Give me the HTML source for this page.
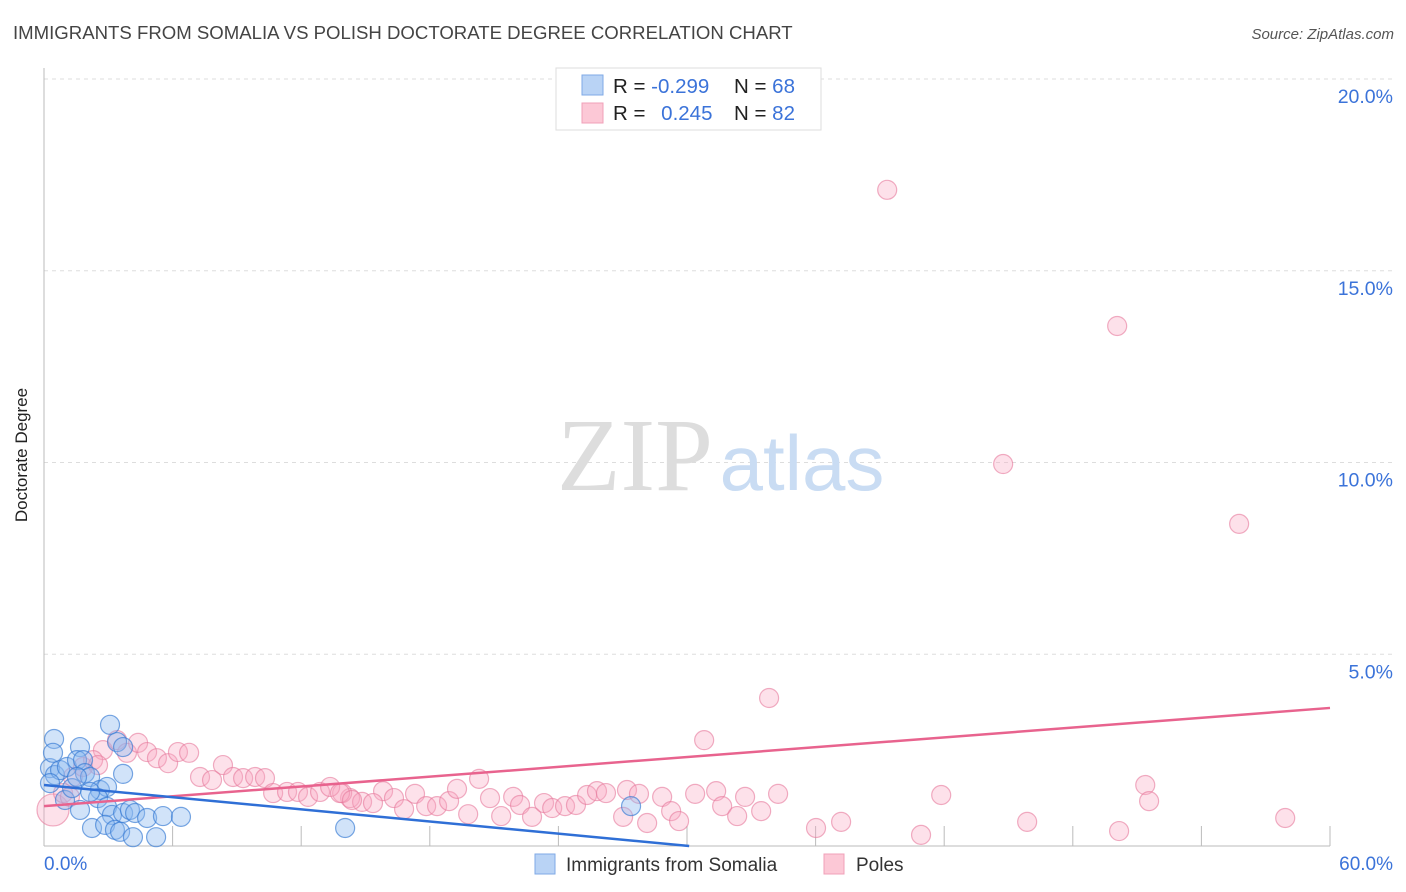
<!DOCTYPE html>
<html><head><meta charset="utf-8">
<style>
body{margin:0;background:#fff;font-family:"Liberation Sans",sans-serif;}
#wrap{position:relative;width:1406px;height:892px;overflow:hidden;}
svg text{font-family:"Liberation Sans",sans-serif;}
</style></head>
<body>
<div id="wrap">
<svg id="chart" width="1406" height="892">
  <text x="13" y="39" font-size="18.6" fill="#444">IMMIGRANTS FROM SOMALIA VS POLISH DOCTORATE DEGREE CORRELATION CHART</text>
  <text x="1394" y="39" font-size="15" fill="#555" font-style="italic" text-anchor="end">Source: ZipAtlas.com</text>
  <g id="grid"></g>
  <g>
    <text x="635" y="490" font-size="104" fill="#ddd" text-anchor="middle" style="font-family:'Liberation Serif',serif">ZIP</text>
    <text x="802" y="490" font-size="78" fill="#c9dcf3" text-anchor="middle">atlas</text>
  </g>
  <line x1="44" y1="68" x2="44" y2="846" stroke="#bbb"/>
  <line x1="44" y1="846" x2="1330" y2="846" stroke="#bbb"/>
  <g id="xticks"></g>
  <g id="yticks"></g>
  <g id="pink"></g>
  <g id="blue"></g>
  <g id="lines"></g>
  <text x="27" y="455" font-size="17" fill="#222" text-anchor="middle" transform="rotate(-90 27 455)">Doctorate Degree</text>
  <text x="44" y="870" font-size="19" fill="#3b73d9">0.0%</text>
  <text x="1393" y="870" font-size="19" fill="#3b73d9" text-anchor="end">60.0%</text>
  <g>
    <rect x="556" y="68" width="265" height="62" fill="#fff" stroke="#ddd"/>
    <rect x="582" y="75" width="21" height="20" fill="#b9d3f5" stroke="#7fa9e6"/>
    <rect x="582" y="103" width="21" height="20" fill="#fcc8d6" stroke="#f0a0b8"/>
    <text x="613" y="93" font-size="20.5" fill="#222">R = <tspan fill="#3b73d9">-0.299</tspan></text>
    <text x="734" y="93" font-size="20.5" fill="#222">N = <tspan fill="#3b73d9">68</tspan></text>
    <text x="613" y="120" font-size="20.5" fill="#222">R = <tspan fill="#3b73d9" dx="10">0.245</tspan></text>
    <text x="734" y="120" font-size="20.5" fill="#222">N = <tspan fill="#3b73d9">82</tspan></text>
  </g>
  <g>
    <rect x="535" y="854" width="20" height="20" fill="#b9d3f5" stroke="#7fa9e6"/>
    <text x="566" y="871" font-size="19" fill="#333">Immigrants from Somalia</text>
    <rect x="824" y="854" width="20" height="20" fill="#fcc8d6" stroke="#f0a0b8"/>
    <text x="856" y="871" font-size="19" fill="#333">Poles</text>
  </g>
</svg>
</div>
<script>
const yTicks=[5,10,15,20];
const yTickLabels=["5.0%","10.0%","15.0%","20.0%"];
const xTicks=[6,12,18,24,30,36,42,48,54,60];
const pinkX=[39.34,50.07,44.75,55.76,33.83,30.80,51.38,51.56,41.86,57.91,45.87,50.16,40.92,36.02,37.19,15.82,16.33,17.31,16.80,17.83,18.34,18.90,19.27,20.30,19.79,20.81,21.33,21.89,22.21,22.77,23.33,23.71,24.31,24.82,25.34,25.80,26.22,27.20,27.76,27.02,28.14,28.84,29.26,29.63,30.38,31.36,31.64,32.34,32.71,33.46,34.25,14.28,14.84,15.35,13.91,0.42,2.75,3.41,3.87,4.39,4.81,5.27,5.79,6.25,6.77,8.35,7.28,7.84,8.82,9.29,9.85,10.31,10.69,11.34,11.85,12.32,12.88,13.35,13.81,14.37,0.89,1.35,1.82,2.29,2.52,1.21];
const pinkY=[17.11,13.56,9.96,8.40,3.86,2.76,1.59,1.17,1.33,0.73,0.63,0.39,0.29,0.47,0.63,1.43,1.25,1.36,0.96,1.04,1.04,1.17,1.49,1.75,0.83,1.25,0.78,1.28,1.07,0.76,1.12,0.99,1.04,1.07,1.33,1.43,1.38,1.46,1.36,0.76,0.60,1.28,0.91,0.65,1.36,1.43,1.04,0.78,1.28,0.91,1.36,1.25,1.15,1.12,1.38,0.94,2.50,2.76,2.43,2.69,2.45,2.29,2.16,2.45,2.43,2.11,1.80,1.72,1.80,1.77,1.80,1.77,1.38,1.41,1.41,1.28,1.41,1.54,1.38,1.20,1.38,1.80,2.06,2.24,2.11,1.28];
const blueX=[14.05,27.39,3.08,0.47,1.68,3.41,3.69,3.69,0.28,0.51,0.75,1.07,1.54,1.82,1.91,2.15,2.61,2.94,2.52,0.98,1.31,1.68,2.94,3.17,3.69,4.01,4.25,4.81,5.55,6.39,2.24,2.85,3.31,3.55,4.15,5.23,0.28,0.42,1.54,2.15];
const blueY=[0.47,1.04,3.16,2.79,2.58,2.71,2.58,1.88,2.03,1.85,1.98,2.06,2.24,2.24,1.90,1.80,1.46,1.54,1.25,1.20,1.51,0.94,1.02,0.81,0.86,0.94,0.86,0.73,0.78,0.76,0.47,0.55,0.42,0.37,0.23,0.23,1.64,2.43,1.80,1.41];
const pinkLine=[1.04,3.60];
const blueLine=[1.59,0.0];
const blueEndX=[30.1];

const NS="http://www.w3.org/2000/svg";
const sx=v=>44+v*(1286/60);
const sy=v=>846-v*38.35;
function mk(tag,attrs,parent){const e=document.createElementNS(NS,tag);for(const k in attrs)e.setAttribute(k,attrs[k]);parent.appendChild(e);return e;}
const grid=document.getElementById('grid'),yt=document.getElementById('yticks'),xt=document.getElementById('xticks');
yTicks.forEach((t,i)=>{
  const l=mk('line',{x1:44,x2:1394,y1:sy(t),y2:sy(t),stroke:'#ddd','stroke-dasharray':'4,4'},grid);
  
  
  const tx=mk('text',{x:1393,y:sy(t)+24,'font-size':19.5,fill:'#3b73d9','text-anchor':'end'},yt);
  tx.textContent=yTickLabels[i];
  
  
});
xTicks.forEach(t=>{
  const l=mk('line',{x1:sx(t),x2:sx(t),y1:826,y2:846,stroke:'#bbb'},xt);
  
  
});
const pg=document.getElementById('pink');
pinkX.forEach((x,i)=>{
  const c=mk('circle',{cx:sx(x),cy:sy(pinkY[i]),r:i===55?16:9.5,fill:'rgba(248,170,195,0.35)',stroke:'rgba(230,120,155,0.6)','stroke-width':1.2},pg);
  
  
});
const bg=document.getElementById('blue');
blueX.forEach((x,i)=>{
  const c=mk('circle',{cx:sx(x),cy:sy(blueY[i]),r:9.5,fill:'rgba(140,185,240,0.4)',stroke:'rgba(50,120,210,0.65)','stroke-width':1.2},bg);
  
  
});
const lg=document.getElementById('lines');
const pl=mk('line',{x1:sx(0),y1:sy(pinkLine[0]),x2:sx(60),y2:sy(pinkLine[1]),stroke:'#e8638e','stroke-width':2.5},lg);


const bl=mk('line',{x1:sx(0),y1:sy(blueLine[0]),x2:sx(blueEndX[0]),y2:sy(blueLine[1]),stroke:'#2f6fd6','stroke-width':2.5},lg);


</script>
</body></html>
